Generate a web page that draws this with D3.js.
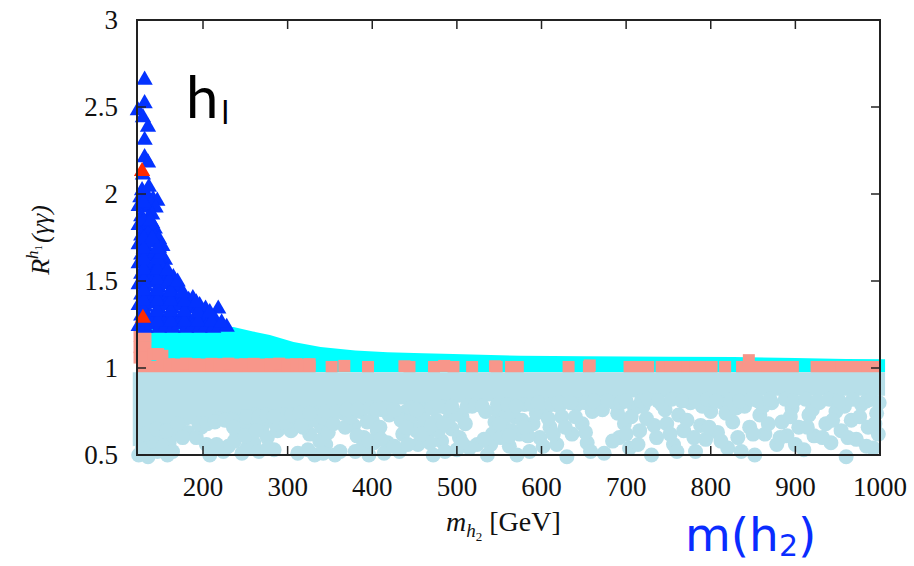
<!DOCTYPE html>
<html><head><meta charset="utf-8">
<script src="https://cdn.jsdelivr.net/npm/d3@7"></script>
<style>body{margin:0;background:#fff}svg{display:block}</style>
</head><body>
<svg id="c" width="914" height="566"></svg>
<script>
// ---- axis ticks ----
const xTicks = [200, 300, 400, 500, 600, 700, 800, 900, 1000];
const yTicks = [0.5, 1, 1.5, 2, 2.5, 3];
const yTickLabels = ["0.5", "1", "1.5", "2", "2.5", "3"];

// ---- light blue circles: dense band (upper/lower edge of cloud) ----
const lbBandX = [117, 150, 175, 200, 230, 260, 300, 350, 400, 450, 500, 550, 600, 650, 700, 750, 800, 850, 900, 950, 1006];
const lbBandLow = [0.55, 0.58, 0.66, 0.70, 0.72, 0.74, 0.75, 0.77, 0.79, 0.79, 0.80, 0.81, 0.81, 0.82, 0.83, 0.83, 0.83, 0.84, 0.84, 0.84, 0.84];
const lbBandTop = 0.975;
// light blue circles below the dense band
const lightBluePts = [
[124,0.50],[126,0.58],[135,0.49],[137,0.55],[146,0.52],[150,0.60],[158,0.50],[160,0.57],[168,0.62],[182,0.63],[192,0.60],[198,0.66],[204,0.56],[208,0.50],[219,0.71],[224,0.52],[230,0.55],[234,0.71],[240,0.62],[246,0.51],[248,0.72],[254,0.64],[260,0.57],[262,0.73],[270,0.66],[276,0.60],[280,0.72],[288,0.64],[296,0.73],[304,0.64],[312,0.51],[320,0.70],[326,0.62],[332,0.50],[334,0.74],[340,0.66],[345,0.56],[350,0.72],[356,0.50],[366,0.74],[378,0.67],[386,0.75],[390,0.60],[396,0.50],[400,0.70],[406,0.64],[412,0.76],[418,0.57],[432,0.52],[436,0.62],[440,0.75],[448,0.66],[454,0.56],[458,0.76],[466,0.63],[472,0.50],[476,0.70],[482,0.58],[488,0.77],[494,0.65],[500,0.53],[506,0.72],[518,0.78],[524,0.56],[536,0.50],[542,0.62],[548,0.76],[556,0.66],[562,0.55],[568,0.72],[574,0.62],[580,0.79],[586,0.52],[590,0.68],[598,0.60],[604,0.77],[610,0.66],[618,0.56],[624,0.72],[630,0.49],[636,0.62],[642,0.79],[648,0.68],[654,0.57],[660,0.75],[674,0.51],[686,0.80],[692,0.60],[698,0.68],[704,0.54],[710,0.77],[716,0.64],[724,0.71],[730,0.50],[736,0.60],[742,0.79],[748,0.68],[756,0.56],[762,0.73],[768,0.64],[776,0.80],[782,0.52],[788,0.67],[794,0.59],[800,0.75],[808,0.63],[814,0.80],[820,0.54],[826,0.69],[832,0.60],[840,0.78],[846,0.66],[852,0.50],[858,0.73],[864,0.62],[872,0.80],[878,0.56],[884,0.69],[890,0.61],[896,0.77],[904,0.66],[910,0.53],[916,0.73],[922,0.61],[928,0.80],[936,0.68],[942,0.57],[948,0.75],[954,0.64],[960,0.49],[966,0.70],[972,0.59],[978,0.79],[986,0.66],[992,0.54],[996,0.74],[998,0.62],
[128,0.53],[141,0.58],[153,0.55],[164,0.52],[176,0.60],[195,0.68],[216,0.56],[237,0.58],[243,0.67],[252,0.54],[257,0.69],[266,0.52],[272,0.71],[284,0.53],[286,0.68],[298,0.69],[308,0.72],[318,0.66],[324,0.53],[329,0.70],[338,0.58],[343,0.71],[348,0.63],[354,0.68],[362,0.52],[368,0.66],[374,0.72],[382,0.61],[388,0.54],[394,0.69],[402,0.57],[409,0.66],[414,0.51],[420,0.73],[434,0.70],[442,0.56],[446,0.71],[452,0.64],[462,0.70],[468,0.57],[478,0.64],[486,0.52],[490,0.70],[498,0.74],[503,0.60],[510,0.68],[515,0.54],[534,0.75],[540,0.56],[545,0.69],[552,0.60],[558,0.73],[565,0.64],[571,0.50],[577,0.70],[584,0.61],[594,0.74],[602,0.55],[608,0.71],[614,0.62],[621,0.78],[628,0.66],[640,0.72],[652,0.63],[658,0.52],[672,0.76],[684,0.58],[690,0.74],[700,0.62],[706,0.72],[714,0.56],[720,0.78],[733,0.67],[746,0.76],[752,0.62],[760,0.52],[772,0.70],[780,0.60],[790,0.78],[798,0.66],[812,0.58],[818,0.74],[830,0.77],[836,0.52],[850,0.62],[862,0.78],[868,0.68],[882,0.60],[894,0.72],[900,0.56],[914,0.66],[920,0.76],[932,0.60],[944,0.70],[958,0.78],[962,0.60],[976,0.72],[984,0.55],[994,0.68],
[205,0.68],[214,0.69],[226,0.70],[235,0.70],[252,0.72],[266,0.72],[275,0.73],[284,0.72],[305,0.73],[314,0.74],[326,0.74],[345,0.75],[358,0.75],[370,0.76],[383,0.76],[398,0.77],[405,0.76],[416,0.77],[426,0.76],[445,0.77],[452,0.76],[470,0.77],[480,0.78],[494,0.78],[512,0.78],[522,0.79],[530,0.78],[548,0.79],[560,0.79],[570,0.78],[588,0.79],[596,0.80],[612,0.79],[620,0.80],[634,0.80],[652,0.80],[662,0.81],[678,0.81],[694,0.80],[700,0.81],[718,0.81],[726,0.82],[738,0.81],[754,0.82],[766,0.81],[782,0.81],[796,0.82],[806,0.81],[824,0.82],[834,0.81],[848,0.82],[856,0.81],[870,0.82],[888,0.82],[898,0.81],[912,0.82],[926,0.81],[940,0.82],[952,0.81],[968,0.82],[984,0.81],[990,0.82],[999,0.80],
[132,0.62],[145,0.65],[157,0.64],[170,0.68],[236,0.66],[250,0.61],[263,0.64],[277,0.54],[316,0.67],[342,0.51],[380,0.52],[396,0.58],[410,0.59],[426,0.55],[440,0.66],[458,0.62],[470,0.67],[484,0.68],[506,0.57],[532,0.59],[550,0.68],[562,0.61],[580,0.66]
];

// ---- cyan squares: band from the light blue top to this upper edge ----
const cyanX = [122, 236, 259, 279, 307, 339, 380, 418, 460, 496, 540, 575, 650, 750, 827, 900, 960, 1006];
const cyanTop = [1.23, 1.235, 1.21, 1.19, 1.15, 1.12, 1.10, 1.09, 1.085, 1.08, 1.075, 1.07, 1.067, 1.065, 1.063, 1.058, 1.052, 1.05];
const cyanBottom = 0.975;

// ---- salmon squares ----
const salmonPts = [
[125,1.185],[132,1.185],[125,1.12],[132,1.12],[125,1.06],[132,1.06],[141,1.08],[147,1.08],[152,1.07],
[130,1.006],[140,1.006],[150,1.006],[160,1.006],[170,1.006],[180,1.006],[190,1.006],[200,1.006],[210,1.006],[220,1.006],[230,1.006],[240,1.006],[250,1.006],[260,1.006],[270,1.006],[280,1.006],[290,1.006],[300,1.006],[310,1.006],[320,1.006],[326,1.006],
[160,1.022],[170,1.02],[180,1.025],[190,1.022],[200,1.02],[210,1.024],[220,1.022],[230,1.025],[240,1.02],[250,1.022],[260,1.024],[270,1.02],[280,1.022],[290,1.025],[300,1.02],[310,1.022],[320,1.02],[326,1.022],
[352,1.006],[367,1.012],[395,1.006],[438,1.01],[444,1.006],[473,1.006],[485,1.012],[496,1.006],[518,1.006],[545,1.01],[547,1.006],[564,1.006],[572,1.006],[632,1.006],[656,1.006],[657,1.015],
[704,1.006],[716,1.006],[726,1.006],[742,1.006],[752,1.006],[762,1.006],[772,1.006],[782,1.006],[792,1.006],[801,1.006],[817,1.006],
[837,1.006],[847,1.006],[857,1.006],[867,1.006],[877,1.006],[887,1.006],[897,1.006],[845,1.045],
[925,1.006],[935,1.006],[945,1.006],[955,1.006],[965,1.006],[975,1.006],[985,1.006],[994,1.006]
];

// ---- blue triangles ----
const bluePts = [
[131,2.655],[131,2.52],[123,2.48],[129,2.44],[135,2.385],[131,2.31],[131,2.21],[135,2.18],[129,2.11],
[126,1.98],[134,1.99],[141,1.97],[146,1.96],[124,1.93],[131,1.92],[139,1.94],[144,1.92],
[127,1.87],[135,1.86],[140,1.88],[124,1.82],[132,1.81],[140,1.83],[143,1.80],
[127,1.76],[135,1.77],[143,1.75],[148,1.74],[124,1.71],[132,1.70],[140,1.72],[148,1.69],[152,1.70],
[127,1.65],[135,1.64],[143,1.66],[151,1.63],[155,1.62],[124,1.60],[132,1.59],[140,1.58],[148,1.60],[154,1.57],
[127,1.54],[135,1.53],[143,1.55],[151,1.52],[159,1.53],[165,1.52],
[124,1.48],[132,1.47],[140,1.49],[148,1.46],[156,1.48],[164,1.46],[170,1.47],
[127,1.42],[135,1.41],[143,1.43],[151,1.40],[159,1.42],[167,1.40],[175,1.41],[183,1.39],[188,1.40],
[124,1.36],[132,1.35],[140,1.37],[148,1.34],[156,1.36],[164,1.34],[172,1.36],[180,1.34],[188,1.35],[196,1.36],[203,1.34],[218,1.34],
[127,1.30],[135,1.29],[143,1.31],[151,1.28],[159,1.30],[167,1.28],[175,1.30],[183,1.28],[191,1.29],[199,1.28],[207,1.30],[214,1.28],
[124,1.24],[132,1.23],[140,1.25],[148,1.23],[156,1.24],[164,1.23],[172,1.25],[180,1.23],[188,1.24],[196,1.23],[204,1.24],[212,1.23],[220,1.24],[228,1.235],
[130,1.265],[146,1.265],[162,1.265],[178,1.265],[194,1.265],[210,1.265],[222,1.26],
[130,1.325],[146,1.325],[162,1.325],[178,1.325],[194,1.32],[208,1.32],
[130,1.385],[146,1.385],[162,1.385],[178,1.38],[192,1.375],
[130,1.445],[146,1.445],[162,1.44],[176,1.435],
[130,1.505],[146,1.505],[160,1.50],[170,1.495],
[130,1.565],[146,1.565],[158,1.56],
[130,1.625],[146,1.625],[150,1.655],
[130,1.685],[146,1.685],
[130,1.745],[140,1.745],
[130,1.845],[138,1.845],
[130,1.95],[128,2.02],[136,2.04]
];
// ---- red triangles ----
const redPts = [[128,2.13],[129,1.287]];

// ================= drawing =================
const svg = d3.select("#c");
const L = 137, R = 880, T = 20, B = 455;
const x = d3.scaleLinear().domain([122, 1000]).range([L, R]);
const y = d3.scaleLinear().domain([0.5, 3]).range([B, T]);

const C_LB = "#b7dfe9", C_CY = "#00ffff", C_SA = "#f8968a", C_BL = "#0433ff", C_RD = "#ff2a00";

// cyan band
svg.append("path")
  .datum(cyanX.map((d, i) => [d, cyanTop[i]]))
  .attr("fill", C_CY)
  .attr("d", d3.area().x(d => x(d[0])).y0(y(cyanBottom)).y1(d => y(d[1])));

// salmon squares
const sq = 12;
svg.append("g").selectAll("rect").data(salmonPts).join("rect")
  .attr("x", d => x(d[0]) - sq / 2).attr("y", d => y(d[1]) - sq / 2)
  .attr("width", sq).attr("height", sq).attr("fill", C_SA);

// light blue band + circles
svg.append("path")
  .datum(lbBandX.map((d, i) => [d, lbBandLow[i]]))
  .attr("fill", C_LB)
  .attr("d", d3.area().x(d => x(d[0])).y0(d => y(d[1])).y1(y(lbBandTop)));
svg.append("g").selectAll("circle").data(lightBluePts).join("circle")
  .attr("cx", d => x(d[0])).attr("cy", d => y(d[1])).attr("r", 7.5).attr("fill", C_LB);

// triangles
const tri = d3.symbol().type(d3.symbolTriangle).size(115);
svg.append("g").selectAll("path").data(bluePts).join("path")
  .attr("transform", d => `translate(${x(d[0])},${y(d[1])})`).attr("d", tri).attr("fill", C_BL);
svg.append("g").selectAll("path").data(redPts).join("path")
  .attr("transform", d => `translate(${x(d[0])},${y(d[1])})`).attr("d", tri).attr("fill", C_RD);

// frame
svg.append("rect").attr("x", L).attr("y", T).attr("width", R - L).attr("height", B - T)
  .attr("fill", "none").attr("stroke", "#222").attr("stroke-width", 2);

// ticks (inward, all sides)
const tk = 9;
const g = svg.append("g").attr("stroke", "#222").attr("stroke-width", 1.5);
xTicks.forEach(v => {
  g.append("line").attr("x1", x(v)).attr("x2", x(v)).attr("y1", B).attr("y2", B - tk);
  g.append("line").attr("x1", x(v)).attr("x2", x(v)).attr("y1", T).attr("y2", T + tk);
});
yTicks.forEach(v => {
  g.append("line").attr("x1", L).attr("x2", L + tk).attr("y1", y(v)).attr("y2", y(v));
  g.append("line").attr("x1", R).attr("x2", R - tk).attr("y1", y(v)).attr("y2", y(v));
});

// tick labels
const serif = "'Liberation Serif', 'Times New Roman', serif";
svg.append("g").selectAll("text").data(xTicks).join("text")
  .attr("x", d => x(d)).attr("y", 496).attr("text-anchor", "middle")
  .attr("font-family", serif).attr("font-size", 27).attr("fill", "#111").text(d => d);
svg.append("g").selectAll("text").data(yTicks).join("text")
  .attr("x", 118).attr("y", d => y(d) + 9).attr("text-anchor", "end")
  .attr("font-family", serif).attr("font-size", 27).attr("fill", "#111").text((d, i) => yTickLabels[i]);

// x axis title
const xt = svg.append("text").attr("x", 446).attr("y", 531).attr("font-family", serif).attr("font-size", 28).attr("fill", "#111");
xt.append("tspan").attr("font-style", "italic").text("m");
xt.append("tspan").attr("font-style", "italic").attr("font-size", 19).attr("dy", 6).text("h");
xt.append("tspan").attr("font-size", 13).attr("dy", 4).text("2");
xt.append("tspan").attr("dy", -10).text(" [GeV]");

// y axis title
const yt = svg.append("text").attr("transform", "translate(49,240) rotate(-90)").attr("text-anchor", "middle")
  .attr("font-family", serif).attr("font-size", 26).attr("fill", "#111");
yt.append("tspan").attr("font-style", "italic").text("R");
yt.append("tspan").attr("font-style", "italic").attr("font-size", 17).attr("dy", -11).text("h");
yt.append("tspan").attr("font-size", 11).attr("dy", 4).text("1");
yt.append("tspan").attr("font-style", "italic").attr("dy", 7).attr("dx", 2).text("(γγ)");

// panel label
const hl = svg.append("text").attr("x", 186).attr("y", 118).attr("font-family", "Lato, 'Open Sans', sans-serif")
  .attr("font-size", 58).attr("fill", "#000");
hl.append("tspan").text("h");
hl.append("tspan").attr("font-size", 32).attr("dy", 6).attr("dx", 3).text("l");

// blue annotation
const mh = svg.append("text").attr("x", 685).attr("y", 551).attr("font-family", "'DejaVu Sans', sans-serif")
  .attr("font-size", 47).attr("fill", "#0a2cff");
mh.append("tspan").text("m(h");
mh.append("tspan").attr("font-size", 30).attr("dy", 5).text("2");
mh.append("tspan").attr("dy", -5).text(")");
</script>
</body></html>
